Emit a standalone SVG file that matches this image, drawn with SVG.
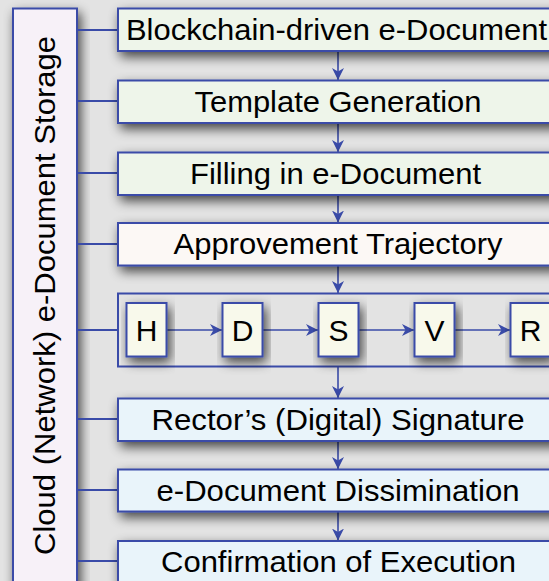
<svg xmlns="http://www.w3.org/2000/svg" width="549" height="581" viewBox="0 0 549 581">
<defs>
<filter id="sh" x="-20%" y="-50%" width="140%" height="200%">
<feGaussianBlur in="SourceAlpha" stdDeviation="6"/>
<feOffset dx="3" dy="5" result="b"/>
<feComponentTransfer><feFuncA type="linear" slope="0.7"/></feComponentTransfer>
<feMerge><feMergeNode/><feMergeNode in="SourceGraphic"/></feMerge>
</filter>
<marker id="ah" markerUnits="userSpaceOnUse" markerWidth="13" markerHeight="13" refX="12" refY="6.5" orient="auto">
<path d="M0,0.5 L12,6.5 L0,12.5 L3.5,6.5 z" fill="#3A4BA8"/>
</marker>
<style>
.b{stroke:#3A4BA8;stroke-width:2;filter:url(#sh)}
.g{fill:#EEF5EA}.w{fill:#FCF8F5}.y{fill:#F8F9EB}.u{fill:#E9F4FA}.p{fill:#F7F1F8}.c{fill:none}
.t{font-family:"Liberation Sans",Arial,sans-serif;font-size:29px;fill:#000;text-anchor:middle}
.l{stroke:#3A4BA8;stroke-width:2;fill:none}
.a{stroke:#3A4BA8;stroke-width:1.6;fill:none;marker-end:url(#ah)}
</style>
</defs>
<rect width="549" height="581" fill="#E3E3E3"/>

<g id="storage">
<rect class="b p" x="13" y="8.5" width="64" height="600"/>
<text class="t" transform="translate(55,295.5) rotate(-90)" textLength="519" lengthAdjust="spacingAndGlyphs">Cloud (Network) e-Document Storage</text>
</g>

<g id="connectors">
<path class="l" d="M78,30H118M78,101H118M78,173H118M78,244H118M78,330H118M78,419H118M78,490H118M78,561H118"/>
<path class="a" d="M338,51V80"/>
<path class="a" d="M338,123V152"/>
<path class="a" d="M338,195V222.5"/>
<path class="a" d="M338,265.5V293"/>
<path class="a" d="M338,367V398"/>
<path class="a" d="M338,441V469"/>
<path class="a" d="M338,511V540.5"/>
<path class="a" d="M167,330H222"/>
<path class="a" d="M262,330H318"/>
<path class="a" d="M358,330H414"/>
<path class="a" d="M454,330H510"/>
</g>

<g id="n1">
<rect class="b g" x="118" y="8.5" width="445" height="42.5"/>
<text class="t" x="336.5" y="39.5" textLength="421" lengthAdjust="spacingAndGlyphs">Blockchain-driven e-Document</text>
</g>
<g id="n2">
<rect class="b g" x="118" y="80.5" width="445" height="42.5"/>
<text class="t" x="338" y="111.5" textLength="287" lengthAdjust="spacingAndGlyphs">Template Generation</text>
</g>
<g id="n3">
<rect class="b g" x="118" y="152.5" width="445" height="42.5"/>
<text class="t" x="335.5" y="183.5" textLength="291" lengthAdjust="spacingAndGlyphs">Filling in e-Document</text>
</g>
<g id="n4">
<rect class="b w" x="118" y="223" width="445" height="42.5"/>
<text class="t" x="338" y="254" textLength="329" lengthAdjust="spacingAndGlyphs">Approvement Trajectory</text>
</g>
<g id="container">
<rect class="b c" x="118" y="293.5" width="445" height="73" style="filter:none"/>
</g>
<g id="nH">
<rect class="b y" x="126.5" y="303" width="40" height="53.5"/>
<text class="t" x="146.5" y="341" style="font-size:30px">H</text>
</g>
<g id="nD">
<rect class="b y" x="222.5" y="303" width="40" height="53.5"/>
<text class="t" x="242.5" y="341" style="font-size:30px">D</text>
</g>
<g id="nS">
<rect class="b y" x="318.5" y="303" width="40" height="53.5"/>
<text class="t" x="338.5" y="341" style="font-size:30px">S</text>
</g>
<g id="nV">
<rect class="b y" x="414.5" y="303" width="40" height="53.5"/>
<text class="t" x="434.5" y="341" style="font-size:30px">V</text>
</g>
<g id="nR">
<rect class="b y" x="510.5" y="303" width="40" height="53.5"/>
<text class="t" x="530.5" y="341" style="font-size:30px">R</text>
</g>
<g id="n5">
<rect class="b u" x="118" y="398.5" width="445" height="42.5"/>
<text class="t" x="338" y="429.5" textLength="373" lengthAdjust="spacingAndGlyphs">Rector’s (Digital) Signature</text>
</g>
<g id="n6">
<rect class="b u" x="118" y="469.5" width="445" height="42"/>
<text class="t" x="338" y="500.5" textLength="363" lengthAdjust="spacingAndGlyphs">e-Document Dissimination</text>
</g>
<g id="n7">
<rect class="b u" x="118" y="541" width="445" height="50"/>
<text class="t" x="338.5" y="572" textLength="355" lengthAdjust="spacingAndGlyphs">Confirmation of Execution</text>
</g>
</svg>
